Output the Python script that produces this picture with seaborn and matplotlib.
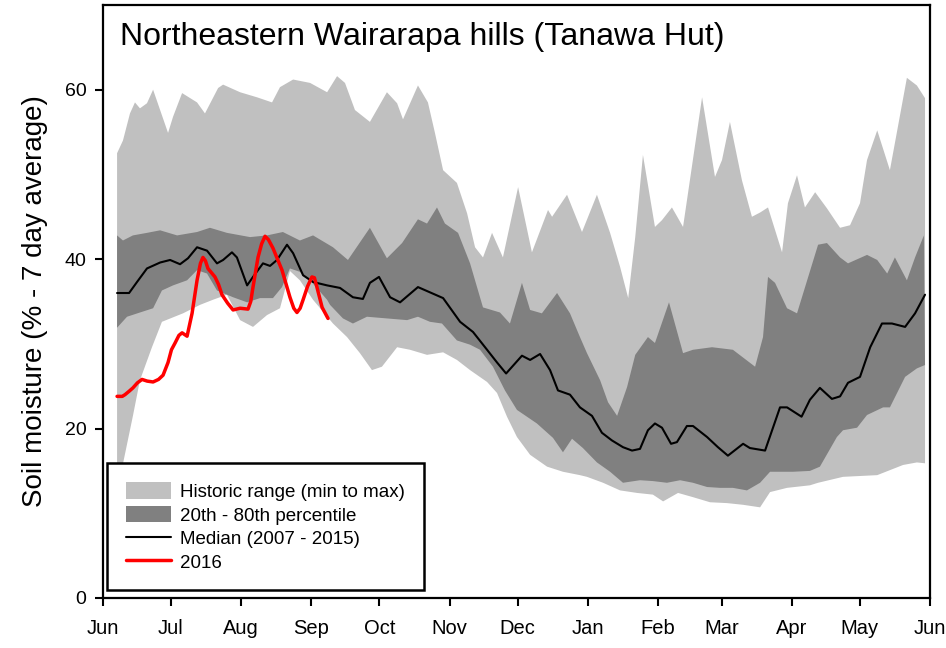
import numpy as np
import pandas as pd
import seaborn as sns
import matplotlib.pyplot as plt

# days counted from 1 June; values are soil moisture (%)
max_day = [6.2, 8.8, 11.9, 14.1, 16.3, 19.4, 22.1, 25.2, 28.7, 30.9, 34.9, 41.5, 45.0, 50.8, 53.0, 60.5,
           68.0, 74.6, 78.1, 83.9, 91.4, 98.9, 103.3, 106.8, 111.2, 117.8, 125.3, 129.8, 132.4, 139.0,
           143.4, 146.5, 150.1, 156.2, 160.7, 164.2, 167.7, 171.7, 176.5, 183.2, 189.3, 196.4, 198.2,
           204.8, 211.4, 218.0, 223.8, 228.2, 231.8, 234.9, 238.3, 243.6, 246.7, 251.1, 256.0, 264.4,
           270.1, 273.2, 276.7, 282.0, 286.4, 290.0, 293.5, 299.7, 302.3, 306.3, 309.8, 314.3, 319.5,
           325.3, 329.7, 334.1, 337.2, 341.7, 347.3, 354.8, 359.2, 362.8]
max_val = [52.5, 54, 57.2, 58.5, 57.8, 58.4, 60, 57.6, 54.9, 56.8, 59.6, 58.5, 57.2, 60.2, 60.6, 59.7,
           59.1, 58.5, 60.3, 61.2, 60.8, 59.7, 61.6, 60.8, 57.6, 56.2, 59.7, 58.4, 56.5, 60.5,
           58.5, 54.9, 50.5, 49, 45.4, 41.4, 40.2, 43.1, 40.2, 48.5, 40.8, 45.8, 45,
           47.6, 43.2, 47.6, 43.1, 39.1, 35.4, 42.6, 52.3, 43.8, 44.6, 46.1, 43.8, 59.1,
           49.7, 51.7, 56.2, 49.3, 45, 45.5, 46.1, 40.8, 46.6, 49.9, 46.1, 47.9, 46,
           43.7, 44, 46.6, 51.7, 55.2, 50.5, 61.4, 60.5, 59]

min_day = [6.2, 9.7, 13.2, 16.3, 21.6, 26.0, 35.3, 42.8, 48.5, 54.7, 60.5, 66.2, 72.4, 78.1, 82.5, 86.9,
           92.7, 101.5, 107.7, 113.4, 118.7, 123.1, 129.8, 135.5, 143.0, 150.1, 156.2, 162.0, 169.5,
           173.9, 178.3, 182.7, 188.5, 196.0, 203.0, 210.5, 213.6, 220.7, 228.2, 235.7, 242.7, 247.2,
           253.8, 260.4, 267.9, 275.4, 282.5, 290.0, 294.4, 301.9, 312.0, 315.6, 326.6, 341.7, 353.1,
           359.2, 362.8]
min_val = [12.5, 17, 21.5, 25.7, 29.6, 32.6, 33.6, 34.6, 35.2, 35.8, 32.8, 32, 33.4, 34.2, 38.6, 37.5,
           35.2, 32.4, 30.8, 28.9, 26.9, 27.3, 29.6, 29.3, 28.7, 29, 28.1, 26.9, 25.5,
           24.2, 21.4, 19, 16.9, 15.5, 14.9, 14.5, 14.3, 13.6, 12.7, 12.4, 12.2, 11.4,
           12.4, 11.9, 11.3, 11.2, 11, 10.7, 12.5, 13, 13.3, 13.6, 14.3, 14.5, 15.7,
           16, 15.9]

p80_day = [6.2, 8.8, 13.2, 19.4, 25.2, 32.7, 41.5, 47.2, 54.7, 64.9, 72.4, 79.4, 86.9, 92.7, 101.5, 108.1,
           117.8, 125.3, 132.0, 139.0, 143.0, 147.4, 150.9, 156.7, 162.0, 167.7, 175.2, 179.6, 184.9,
           188.5, 193.7, 200.4, 206.1, 210.5, 213.6, 219.4, 222.9, 226.9, 231.3, 234.9, 240.5, 243.6,
           249.8, 256.0, 260.4, 268.8, 278.0, 287.8, 291.3, 293.5, 296.6, 301.9, 306.3, 315.6, 319.5,
           325.3, 328.8, 337.2, 341.7, 346.1, 349.5, 354.8, 358.4, 362.3]
p80_val = [42.8, 42.2, 42.8, 43.1, 43.4, 42.8, 43.2, 43.7, 43.1, 42.6, 42.8, 43.2, 42.2, 42.8, 41.4, 39.9,
           43.7, 40.1, 41.9, 44.7, 44.2, 46.1, 44.2, 43.1, 39.5, 34.3, 33.7, 32.4, 37.2,
           34, 33.6, 36, 33.6, 30.8, 28.9, 25.7, 23.1, 21.5, 24.9, 28.7, 30.8, 30.1,
           34.9, 28.9, 29.3, 29.6, 29.3, 27.3, 30.8, 37.9, 37.2, 34.2, 33.6, 41.7, 41.9,
           40.2, 39.5, 40.5, 39.9, 38.3, 40.2, 37.5, 40.2, 42.8]

p20_day = [6.2, 10.6, 16.3, 22.1, 26.0, 30.9, 37.1, 41.5, 45.9, 50.3, 57.4, 63.6, 69.3, 75.0, 79.0, 82.5,
           86.9, 91.4, 98.9, 100.2, 105.9, 110.3, 116.5, 125.3, 134.2, 139.0, 144.3, 149.6, 156.2,
           162.0, 166.4, 172.1, 177.4, 182.7, 191.5, 198.6, 203.0, 207.0, 211.8, 218.0, 223.8, 229.5,
           237.0, 242.7, 248.9, 254.7, 260.4, 266.6, 272.3, 278.0, 284.2, 290.0, 294.4, 304.5, 312.0,
           316.4, 323.9, 326.6, 332.8, 337.2, 344.3, 347.3, 354.0, 359.2, 362.8]
p20_val = [31.9, 33.2, 33.7, 34.2, 36.3, 36.9, 37.5, 38.7, 38.3, 36.3, 35.5, 34.9, 35.4, 35.4, 36.7, 38.9,
           38.5, 37.5, 35.2, 34.6, 33.0, 32.4, 33.2, 33, 32.8, 33.2, 32.6, 32.4, 30.4,
           29.9, 29.3, 27.3, 24.5, 22.2, 20.6, 18.9, 17.2, 18.8, 17.7, 16, 14.9, 13.6,
           13.9, 13.8, 13.6, 13.9, 13.6, 13.1, 13, 13, 12.7, 13.6, 14.9, 14.9, 15,
           15.5, 19, 19.8, 20.1, 21.6, 22.5, 22.5, 26.1, 27.1, 27.5]

med_day = [6.2, 11.5, 15.0, 19.4, 25.2, 29.6, 34.0, 37.5, 41.5, 45.9, 50.3, 53.0, 56.9, 59.1, 63.6, 66.2,
           70.6, 73.7, 76.8, 81.2, 83.9, 88.3, 92.7, 98.9, 104.6, 110.3, 114.7, 117.8, 121.8, 126.7,
           131.1, 139.0, 150.1, 157.6, 163.3, 169.5, 173.9, 177.9, 184.9, 188.5, 192.9, 197.3, 200.8,
           206.1, 210.5, 215.8, 220.2, 224.6, 229.5, 233.5, 237.0, 240.5, 243.6, 246.7, 250.7, 253.3,
           257.7, 260.4, 266.6, 271.4, 275.8, 282.5, 285.5, 292.2, 298.8, 301.9, 308.3, 312.0, 316.4,
           321.7, 325.3, 328.8, 334.1, 338.6, 343.8, 348.2, 354.0, 358.4, 362.8]
med_val = [36, 36, 37.3, 38.9, 39.6, 39.9, 39.4, 40.1, 41.4, 41, 39.5, 39.9, 40.8, 40.2, 36.9, 37.9,
           39.5, 39.2, 39.9, 41.7, 40.7, 38.1, 37.3, 36.9, 36.6, 35.5, 35.3, 37.2, 37.9, 35.5,
           34.9, 36.7, 35.4, 32.6, 31.4, 29.3, 27.8, 26.5, 28.6, 28.1, 28.8, 26.9, 24.5,
           24, 22.5, 21.5, 19.5, 18.6, 17.8, 17.4, 17.6, 19.8, 20.6, 20.1, 18.2, 18.4,
           20.3, 20.3, 19, 17.8, 16.8, 18.2, 17.7, 17.4, 22.5, 22.5, 21.4, 23.4, 24.8,
           23.5, 23.8, 25.4, 26.1, 29.6, 32.4, 32.4, 32, 33.6, 35.8]

y2016_day = [6.2, 8.5, 9.7, 11.5, 13.2, 15.2, 17.2, 19.5, 22.1, 24.5, 26.5, 28.7, 30.2, 31.8, 33.5, 34.9,
             37.1, 39.3, 41.5, 43.0, 44.1, 45.2, 46.3, 49.4, 51.0, 52.5, 55.0, 57.4, 60.5, 64.0, 65.2,
             66.2, 68.4, 70.0, 71.5, 73.0, 75.0, 77.0, 79.0, 82.5, 84.2, 85.6, 87.0, 88.3, 90.3, 92.2,
             93.3, 94.4, 96.7, 99.3]
y2016_val = [23.8, 23.8, 24, 24.4, 24.8, 25.4, 25.8, 25.6, 25.5, 25.8, 26.3, 27.8, 29.3, 30.1, 31.0, 31.3,
             30.9, 33.6, 37.5, 39.5, 40.2, 39.8, 38.9, 37.9, 37.0, 35.8, 34.8, 34, 34.2, 34.1, 35.0,
             36.7, 40.2, 41.8, 42.7, 42.3, 41.3, 40.0, 38.7, 35.5, 34.2, 33.7, 34.2, 35.2, 36.8, 37.9,
             37.8, 36.7, 34.3, 33]

month_ticks = [0, 30, 61, 92, 122, 153, 183, 214, 245, 273, 304, 334, 365]
month_labels = ["Jun", "Jul", "Aug", "Sep", "Oct", "Nov", "Dec", "Jan", "Feb", "Mar", "Apr", "May", "Jun"]

sns.set_theme(style="ticks")
plt.rcParams['font.family'] = ['Liberation Sans', 'DejaVu Sans']
plt.rcParams['text.color'] = 'black'
plt.rcParams['xtick.color'] = 'black'
plt.rcParams['ytick.color'] = 'black'
plt.rcParams['axes.labelcolor'] = 'black'

fig = plt.figure(figsize=(9.46, 6.48), dpi=100)
ax = fig.add_axes([0.1089, 0.0772, 0.8742, 0.9151])

ax.fill(np.concatenate([max_day, min_day[::-1]]), np.concatenate([max_val, min_val[::-1]]),
        color="#c0c0c0", lw=0, label="Historic range (min to max)")
ax.fill(np.concatenate([p80_day, p20_day[::-1]]), np.concatenate([p80_val, p20_val[::-1]]),
        color="#808080", lw=0, label="20th - 80th percentile")

med = pd.DataFrame({"day": med_day, "val": med_val})
cur = pd.DataFrame({"day": y2016_day, "val": y2016_val})
sns.lineplot(data=med, x="day", y="val", color="black", lw=1.5, ax=ax, label="Median (2007 - 2015)")
sns.lineplot(data=cur, x="day", y="val", color="red", lw=2.5, ax=ax, label="2016")

ax.set_xlim(0, 365)
ax.set_ylim(0, 70)
ax.set_xticks(month_ticks)
ax.set_xticklabels(month_labels)
ax.set_yticks([0, 20, 40, 60])
ax.set_xlabel("")
ax.set_ylabel("Soil moisture (% - 7 day average)", fontsize=20, labelpad=12)
ax.tick_params(axis="x", labelsize=14.5, length=6, width=1.5, pad=9, direction="out")
ax.tick_params(axis="y", labelsize=14, length=6, width=1.5, pad=6, direction="out")
for s in ax.spines.values():
    s.set_linewidth(1.6)
    s.set_color("black")

ax.text(0.0206, 0.946, "Northeastern Wairarapa hills (Tanawa Hut)", transform=ax.transAxes,
        fontsize=23, va="center", ha="left", color="black")

leg = ax.legend(loc="lower left", bbox_to_anchor=(0.005, 0.013), fontsize=13.5, frameon=True,
                fancybox=False, edgecolor="black", framealpha=1, borderpad=1.0, labelspacing=0.25,
                handlelength=2.4, handleheight=1.0, handletextpad=0.5, borderaxespad=0)
leg.get_frame().set_linewidth(1.8)
for t in leg.get_texts():
    t.set_color("black")

fig.savefig("out.png", dpi=100)
